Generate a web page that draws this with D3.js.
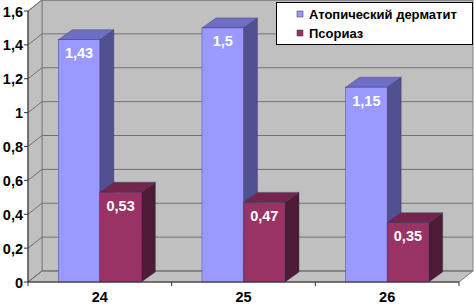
<!DOCTYPE html>
<html lang='ru'>
<head>
<meta charset='UTF-8'>
<script src='https://d3js.org/d3.v7.min.js'></script>
<style>
  body { margin: 0; background: #fff; }
  svg { display: block; font-family: 'Liberation Sans', Arial, sans-serif; }
</style>
</head>
<body>
<div id='chart'></div>
<script>
const categories = ['24', '25', '26'];
const seriesNames = ['Атопический дерматит', 'Псориаз'];
const atopic = [1.43, 1.5, 1.15];
const psoriasis = [0.53, 0.47, 0.35];
const yTicks = [0, 0.2, 0.4, 0.6, 0.8, 1, 1.2, 1.4, 1.6];

const W = 474, H = 305;
const plotLeft = 28, plotRight = 459, plotBase = 282, plotTop = 11;
const depthX = 14, depthY = -11;   // wall depth
const barDX = 14, barDY = -10;      // bar depth

const colors = [
  { front: '#9999ff', top: '#6e6ec4', side: '#515192' },
  { front: '#993366', top: '#73264d', side: '#4f1a35' }
];

const svg = d3.select('#chart').append('svg').attr('width', W).attr('height', H);

const y = d3.scaleLinear().domain([0, 1.6]).range([plotBase, plotTop]);
const x = d3.scaleBand().domain(categories).range([plotLeft, plotRight]);
const xs = d3.scaleBand().domain(seriesNames).range([0, x.bandwidth()]).paddingOuter(0.73);

const fmt = v => String(v).replace('.', ',');
const pts = a => a.map(p => p.join(',')).join(' ');

// walls and floor
svg.append('polygon')
  .attr('points', pts([[plotLeft + depthX, y(1.6) + depthY], [W - 1, y(1.6) + depthY], [W - 1, plotBase + depthY], [plotLeft + depthX, plotBase + depthY]]))
  .attr('fill', '#c0c0c0').attr('stroke', '#808080');
svg.append('polygon')
  .attr('points', pts([[plotLeft, y(1.6)], [plotLeft + depthX, y(1.6) + depthY], [plotLeft + depthX, plotBase + depthY], [plotLeft, plotBase]]))
  .attr('fill', '#c0c0c0').attr('stroke', '#808080');
svg.append('polygon')
  .attr('points', pts([[plotLeft, plotBase], [plotLeft + depthX, plotBase + depthY], [plotRight + depthX, plotBase + depthY], [plotRight, plotBase]]))
  .attr('fill', '#c0c0c0').attr('stroke', '#808080');

// gridlines
const grid = svg.append('g').attr('stroke', '#707070').attr('fill', 'none');
yTicks.forEach(v => {
  grid.append('polyline')
    .attr('points', pts([[plotLeft, y(v)], [plotLeft + depthX, y(v) + depthY], [W - 1, y(v) + depthY]]));
});

// bars
const series = [atopic, psoriasis];
categories.forEach((c, i) => {
  series.forEach((vals, s) => {
    const x0 = x(c) + xs(seriesNames[s]);
    const x1 = x0 + xs.bandwidth();
    const yt = y(vals[i]);
    const g = svg.append('g').attr('stroke', '#333366').attr('stroke-width', 0.4);
    g.append('polygon').attr('fill', colors[s].side)
      .attr('points', pts([[x1, yt], [x1 + barDX, yt + barDY], [x1 + barDX, plotBase + barDY], [x1, plotBase]]));
    g.append('polygon').attr('fill', colors[s].top)
      .attr('points', pts([[x0, yt], [x0 + barDX, yt + barDY], [x1 + barDX, yt + barDY], [x1, yt]]));
    g.append('rect').attr('fill', colors[s].front)
      .attr('x', x0).attr('y', yt).attr('width', x1 - x0).attr('height', plotBase - yt);
    svg.append('text')
      .attr('x', (x0 + x1) / 2).attr('y', yt + 18.5)
      .attr('text-anchor', 'middle').attr('fill', '#fff')
      .attr('font-weight', 'bold').attr('font-size', 14.5)
      .text(fmt(vals[i]));
  });
});

// axes
svg.append('line').attr('x1', plotLeft).attr('x2', plotLeft).attr('y1', y(1.6)).attr('y2', plotBase).attr('stroke', '#333');
svg.append('line').attr('x1', plotLeft).attr('x2', plotRight).attr('y1', plotBase).attr('y2', plotBase).attr('stroke', '#333');
const yAxis = svg.append('g');
yTicks.forEach(v => {
  yAxis.append('line').attr('x1', plotLeft - 4).attr('x2', plotLeft).attr('y1', y(v)).attr('y2', y(v)).attr('stroke', '#333');
  yAxis.append('text').attr('x', plotLeft - 5).attr('y', y(v) + 5.5)
    .attr('text-anchor', 'end').attr('font-weight', 'bold').attr('font-size', 14.5)
    .text(fmt(v));
});
const bounds = categories.map(c => x(c)).concat([plotRight]);
bounds.forEach(b => {
  svg.append('line').attr('x1', b).attr('x2', b).attr('y1', plotBase).attr('y2', plotBase + 4).attr('stroke', '#333');
});
categories.forEach(c => {
  svg.append('text').attr('x', x(c) + x.bandwidth() / 2).attr('y', plotBase + 20)
    .attr('text-anchor', 'middle').attr('font-weight', 'bold').attr('font-size', 14.5)
    .text(c);
});

// legend
const lg = svg.append('g');
lg.append('rect').attr('x', 276.5).attr('y', 2.5).attr('width', 196).attr('height', 42)
  .attr('fill', '#fff').attr('stroke', '#000');
seriesNames.forEach((n, i) => {
  const ly = 14 + i * 19;
  lg.append('rect').attr('x', 297).attr('y', ly - 3).attr('width', 6).attr('height', 6)
    .attr('fill', colors[i].front).attr('stroke', '#333').attr('stroke-width', 0.5);
  lg.append('text').attr('x', 309).attr('y', ly + 4.5)
    .attr('font-weight', 'bold').attr('font-size', 13).text(n);
});
</script>
</body>
</html>
